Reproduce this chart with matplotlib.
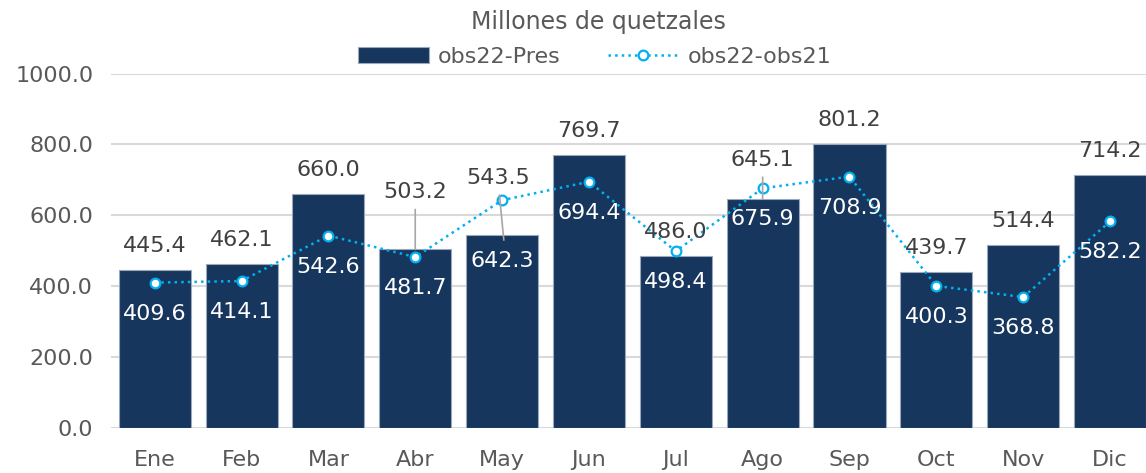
import numpy as np
import matplotlib
matplotlib.use('Agg')
import matplotlib.pyplot as plt

# datos (millones de quetzales)
meses = ['Ene', 'Feb', 'Mar', 'Abr', 'May', 'Jun', 'Jul', 'Ago', 'Sep', 'Oct', 'Nov', 'Dic']
obs22_pres = [445.4, 462.1, 660.0, 503.2, 543.5, 769.7, 486.0, 645.1, 801.2, 439.7, 514.4, 714.2]
obs22_obs21 = [409.6, 414.1, 542.6, 481.7, 642.3, 694.4, 498.4, 675.9, 708.9, 400.3, 368.8, 582.2]
yticks = [0, 200, 400, 600, 800, 1000]

navy = '#17365d'
cyan = '#00b0f0'
gris = '#595959'
gris_txt = '#404040'
fs = 16

plt.rcParams['font.family'] = ['DejaVu Sans']

fig = plt.figure(figsize=(11.46, 4.73), dpi=100)
ax = fig.add_axes([0.0971, 0.0958, 0.9094, 0.7488])

x = np.arange(len(meses))
barras = ax.bar(x, obs22_pres, width=0.83, color=navy, edgecolor='#9aa8bb', linewidth=0.8,
                label='obs22-Pres', zorder=2)
linea, = ax.plot(x, obs22_obs21, linestyle=':', linewidth=1.8, color=cyan, marker='o',
                 markersize=7, markerfacecolor='white', markeredgecolor=cyan,
                 markeredgewidth=1.6, label='obs22-obs21', zorder=3)

ax.set_xlim(-0.5, len(meses) - 0.5)
ax.set_ylim(0, 1000)
ax.set_yticks(yticks)
ax.set_yticklabels(['%.1f' % v for v in yticks])
ax.set_xticks(x)
ax.set_xticklabels(meses)
ax.tick_params(axis='both', length=0, labelsize=fs, colors=gris)
ax.tick_params(axis='y', pad=13)
ax.tick_params(axis='x', pad=16)
ax.grid(axis='y', color='#d9d9d9', linewidth=1.5, zorder=0)
ax.set_axisbelow(True)
for s in ax.spines.values():
    s.set_visible(False)

# etiquetas de barras (desplazamiento en px sobre la barra)
subida = {3: 57, 4: 62, 7: 39}
for i, v in enumerate(obs22_pres):
    dy = subida.get(i, 24) * 0.72
    dx = -6 * 0.72 if i == 4 else 0
    if i in subida:
        ax.annotate('%.1f' % v, xy=(i + (0.02 if i == 4 else 0), v - (14 if i == 4 else 0)),
                    xytext=(dx, dy), textcoords='offset points',
                    ha='center', va='center', fontsize=fs, color=gris_txt,
                    arrowprops=dict(arrowstyle='-', color='#a6a6a6', lw=1.2,
                                    shrinkA=3, shrinkB=0),
                    zorder=4, annotation_clip=False)
    else:
        ax.annotate('%.1f' % v, xy=(i, v), xytext=(0, dy), textcoords='offset points',
                    ha='center', va='center', fontsize=fs, color=gris_txt,
                    zorder=4, annotation_clip=False)

# etiquetas de la linea (desplazamiento en px bajo el punto)
bajada = {4: 61}
for i, v in enumerate(obs22_obs21):
    dy = -bajada.get(i, 31) * 0.72
    ax.annotate('%.1f' % v, xy=(i, v), xytext=(0, dy), textcoords='offset points',
                ha='center', va='center', fontsize=fs, color='white', zorder=5)

fig.text(0.522, 1 - 22 / 473, 'Millones de quetzales', ha='center', va='center',
         fontsize=17, color=gris)
fig.legend([barras, linea], ['obs22-Pres', 'obs22-obs21'], loc='center',
           bbox_to_anchor=(0.519, 1 - 57 / 473), ncol=2, frameon=False,
           fontsize=fs, labelcolor=gris, handlelength=3.2, handletextpad=0.4,
           columnspacing=2.1, borderaxespad=0)

fig.savefig('out.png', dpi=100)
